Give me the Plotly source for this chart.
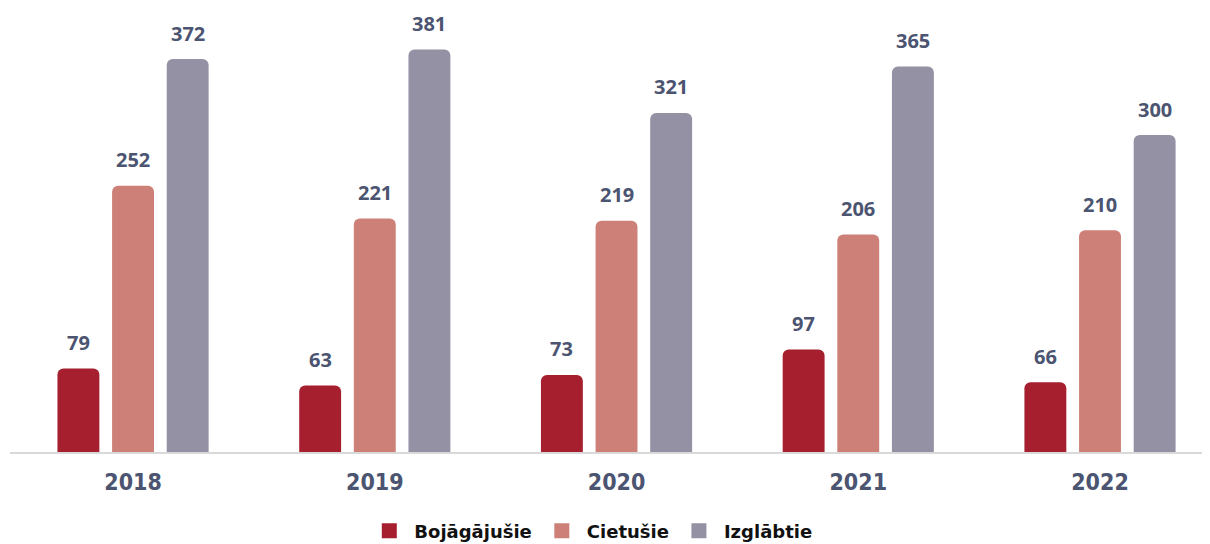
import plotly.graph_objects as go

years = ["2018", "2019", "2020", "2021", "2022"]
bojagajusie = [79, 63, 73, 97, 66]
cietusie = [252, 221, 219, 206, 210]
izglabtie = [372, 381, 321, 365, 300]

series = [
    ("Bojāgājušie", bojagajusie, "#A61F2F"),
    ("Cietušie", cietusie, "#CC8077"),
    ("Izglābtie", izglabtie, "#9391A3"),
]

LABEL_FONT = dict(family="Open Sans, Noto Sans, sans-serif", size=20, color="#4B5470", weight=700)
BARGAP = 0.322
PX_PER_CAT = 241.75
slot_px = PX_PER_CAT * (1 - BARGAP) / len(series)

fig = go.Figure()
for i, (name, vals, color) in enumerate(series):
    fig.add_trace(go.Bar(
        x=years, y=vals, name=name, showlegend=False,
        marker=dict(color=color, line=dict(width=0), cornerradius=6),
        cliponaxis=False,
    ))
    for j, v in enumerate(vals):
        fig.add_annotation(x=j, y=v, xref="x", yref="y", text=str(v), showarrow=False,
                           xshift=(i - 1) * slot_px, yshift=26, yanchor="middle",
                           font=LABEL_FONT)
    fig.add_trace(go.Scatter(
        x=[None], y=[None], mode="markers", name=name,
        marker=dict(symbol="square", size=15, color=color),
    ))

fig.update_layout(
    width=1202, height=536,
    margin=dict(l=2, r=0, t=0, b=92, autoexpand=False),
    paper_bgcolor="white", plot_bgcolor="white",
    barmode="group", bargap=BARGAP, bargroupgap=0.233,
    showlegend=True,
    legend=dict(orientation="h", x=0.484, xanchor="center", y=-0.178, yanchor="middle",
                font=dict(family="DejaVu Sans, sans-serif", size=18, color="#111111", weight=700),
                itemwidth=40, traceorder="normal"),
    xaxis=dict(type="category", range=[-0.509, 4.455], showline=True, linecolor="#D9D9D9", linewidth=2,
               ticks="", showgrid=False, zeroline=False, ticklabelstandoff=8,
               tickfont=dict(family="DejaVu Sans Condensed, DejaVu Sans, sans-serif", size=23,
                             color="#4B5470", weight=700)),
    yaxis=dict(range=[0, 420.3], visible=False, showgrid=False, zeroline=False),
)

fig.write_html("out.html")
